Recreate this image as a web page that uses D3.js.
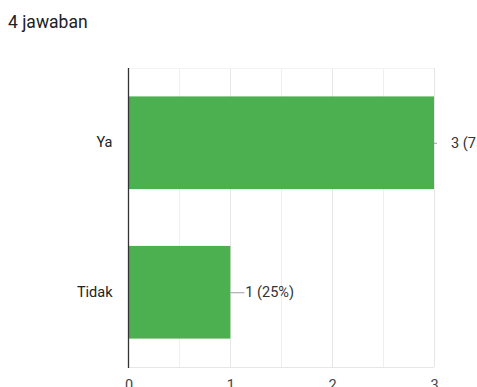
<!DOCTYPE html>
<html>
<head>
<meta charset="utf-8">
<script src="https://cdn.jsdelivr.net/npm/d3@7"></script>
<style>
  html, body { margin: 0; padding: 0; background: #fff; }
  svg { display: block; font-family: Roboto, Arial, sans-serif; }
</style>
</head>
<body>
<svg id="chart" width="477" height="387"></svg>
<script>
// Survey answers
const categories = ["Ya", "Tidak"];
const counts = [3, 1];
const percents = ["75%", "25%"];
const xTicks = [0, 1, 2, 3];
const title = "4 jawaban";

const svg = d3.select("#chart");
const plot = { left: 128.5, right: 434, top: 68, bottom: 367 };

const x = d3.scaleLinear().domain([0, 3]).range([plot.left, plot.right]);
const y = d3.scaleBand().domain(categories).range([plot.top, plot.bottom])
  .paddingInner(0.38).paddingOuter(0.19);

svg.append("text")
  .attr("x", 8).attr("y", 28)
  .attr("font-size", 17.5).attr("fill", "#202124")
  .text(title);

// Gridlines, including half-step minor lines
const gridVals = d3.range(0.5, 3.01, 0.5);
svg.append("g").selectAll("line").data(gridVals).join("line")
  .attr("x1", d => Math.round(x(d)) + 0.5).attr("x2", d => Math.round(x(d)) + 0.5)
  .attr("y1", plot.top).attr("y2", plot.bottom)
  .attr("stroke", d => Number.isInteger(d) ? "#e6e6e6" : "#efefef")
  .attr("stroke-width", 1);

svg.append("line")
  .attr("x1", plot.left).attr("x2", plot.right)
  .attr("y1", plot.bottom + 0.5).attr("y2", plot.bottom + 0.5)
  .attr("stroke", "#e6e6e6");
svg.append("line")
  .attr("x1", plot.left).attr("x2", plot.right)
  .attr("y1", plot.top + 0.5).attr("y2", plot.top + 0.5)
  .attr("stroke", "#f3f3f3");

// Bars
svg.append("g").selectAll("rect").data(categories).join("rect")
  .attr("x", x(0))
  .attr("y", d => y(d))
  .attr("width", (d, i) => x(counts[i]) - x(0))
  .attr("height", y.bandwidth())
  .attr("fill", "#4caf50");

// Leader lines and value labels
const labelOffsets = [17, 15];
categories.forEach((c, i) => {
  const cy = y(c) + y.bandwidth() / 2;
  const x0 = x(counts[i]);
  const lineLen = i === 0 ? 3 : 14;
  svg.append("line")
    .attr("x1", x0).attr("x2", x0 + lineLen)
    .attr("y1", cy + 0.5).attr("y2", cy + 0.5)
    .attr("stroke", "#9e9e9e").attr("stroke-width", 1);
  svg.append("text")
    .attr("x", x0 + labelOffsets[i]).attr("y", cy)
    .attr("dy", "0.35em")
    .attr("font-size", 14.5).attr("fill", "#333")
    .text(`${counts[i]} (${percents[i]})`);
});

// Category axis
const yAxis = svg.append("g")
  .attr("transform", `translate(${plot.left},0)`)
  .call(d3.axisLeft(y).tickSize(0).tickPadding(16));
yAxis.select(".domain").remove();
yAxis.selectAll("text").attr("font-size", 14.5).attr("fill", "#222")
  .attr("font-family", "Roboto, Arial, sans-serif");
svg.append("line")
  .attr("x1", plot.left).attr("x2", plot.left)
  .attr("y1", plot.top).attr("y2", plot.bottom + 1)
  .attr("stroke", "#333").attr("stroke-width", 1.3);

// Value axis
const xAxis = svg.append("g")
  .attr("transform", `translate(0,${plot.bottom})`)
  .call(d3.axisBottom(x).tickValues(xTicks).tickFormat(d3.format("d")).tickSize(0).tickPadding(13));
xAxis.select(".domain").remove();
xAxis.selectAll("text").attr("font-size", 14.5).attr("fill", "#444")
  .attr("font-family", "Roboto, Arial, sans-serif");
</script>
</body>
</html>
